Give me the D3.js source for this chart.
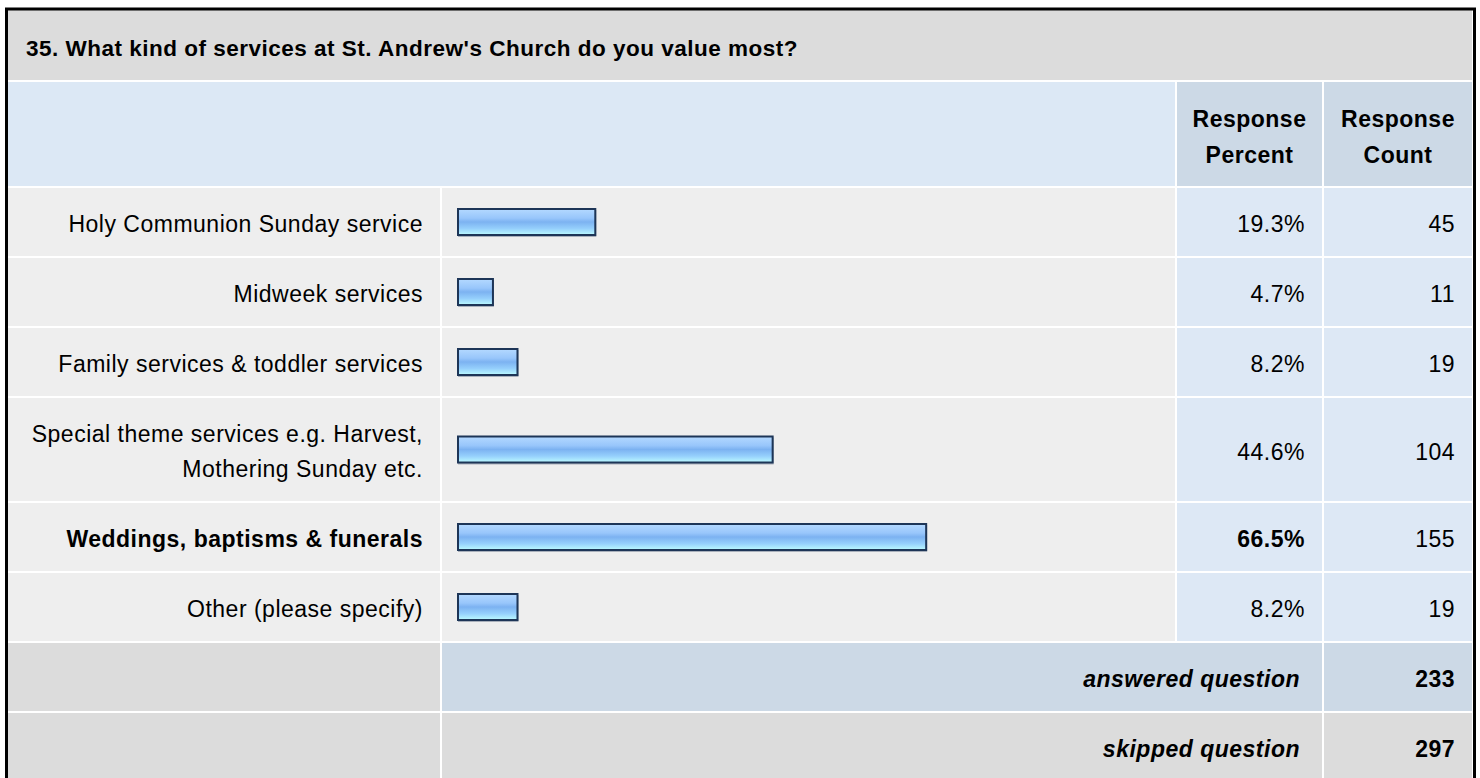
<!DOCTYPE html>
<html>
<head>
<meta charset="utf-8">
<script src="https://cdn.jsdelivr.net/npm/d3@7/dist/d3.min.js"></script>
<style>
  body { margin: 0; background: #fff; }
  svg text { font-family: Arial, "Liberation Sans", sans-serif; fill: #000; letter-spacing: 0.5px; }
</style>
</head>
<body>
<div id="chart"></div>
<script>
var title = "35. What kind of services at St. Andrew's Church do you value most?";
var categories = [
  ["Holy Communion Sunday service"],
  ["Midweek services"],
  ["Family services & toddler services"],
  ["Special theme services e.g. Harvest,", "Mothering Sunday etc."],
  ["Weddings, baptisms & funerals"],
  ["Other (please specify)"]
];
var percents = [19.3, 4.7, 8.2, 44.6, 66.5, 8.2];
var counts = [45, 11, 19, 104, 155, 19];
var headers = [["Response", "Percent"], ["Response", "Count"]];
var footerLabels = ["answered question", "skipped question"];
var footerCounts = [233, 297];

(function() {
  var w = 1480,
      h = 778;

  var svg = d3.select("#chart")
    .append("svg")
    .attr("width", w)
    .attr("height", h)

  // columns: label | bar | percent | count
  var colX = [8, 442, 1177, 1324],
      colR = [440, 1175, 1322, 1472];

  var topY = 188, rowH = 68, lineH = 35, gap = 2, fs = 23, base = 10;

  // row heights depend on how many lines the label has
  var rows = [];
  var y = topY;
  categories.forEach(function(c, i) {
    var hh = rowH + (c.length - 1) * lineH;
    rows.push({lines: c, pct: percents[i], count: counts[i], y: y, h: hh});
    y += hh + gap;
  });
  var footY = y;

  var maxPct = d3.max(percents);

  var x = d3.scaleLinear().domain([0, 100]).range([0, 701]);

  var defs = svg.append("defs");
  var grad = defs.append("linearGradient")
    .attr("id", "barGrad")
    .attr("x1", 0).attr("y1", 0).attr("x2", 0).attr("y2", 1);
  grad.append("stop").attr("offset", "0%").attr("stop-color", "#b4d9ff");
  grad.append("stop").attr("offset", "35%").attr("stop-color", "#98c6fb");
  grad.append("stop").attr("offset", "50%").attr("stop-color", "#7cb2f1");
  grad.append("stop").attr("offset", "75%").attr("stop-color", "#95cffc");
  grad.append("stop").attr("offset", "100%").attr("stop-color", "#bcfbff");

  // title + header
  svg.append("rect").attr("x", 8).attr("y", 10).attr("width", 1464).attr("height", 70).attr("fill", "#dcdcdc");
  svg.append("text").attr("x", 26).attr("y", 56)
    .attr("font-size", 22.5).attr("font-weight", "bold").text(title);

  svg.append("rect").attr("x", 8).attr("y", 82).attr("width", colR[1] - 8).attr("height", 104).attr("fill", "#dce8f5");
  headers.forEach(function(hd, i) {
    var c = i + 2;
    svg.append("rect").attr("x", colX[c]).attr("y", 82)
      .attr("width", colR[c] - colX[c]).attr("height", 104).attr("fill", "#ccd9e6");
    hd.forEach(function(t, j) {
      svg.append("text")
        .attr("x", (colX[c] + colR[c]) / 2)
        .attr("y", 127 + j * 36)
        .attr("text-anchor", "middle")
        .attr("font-size", fs).attr("font-weight", "bold")
        .text(t);
    });
  });

  // data rows
  var row = svg.selectAll(".row")
    .data(rows)
    .enter().append("g")
    .attr("class", "row")
    .attr("transform", function(d) { return "translate(0," + d.y + ")"; });

  [0, 1, 2, 3].forEach(function(c) {
    row.append("rect")
      .attr("x", colX[c])
      .attr("width", colR[c] - colX[c])
      .attr("height", function(d) { return d.h; })
      .attr("fill", c < 2 ? "#eeeeee" : "#dde8f5");
  });

  row.each(function(d) {
    var g = d3.select(this);
    var n = d.lines.length;
    d.lines.forEach(function(t, j) {
      g.append("text")
        .attr("x", 423)
        .attr("y", d.h / 2 + base + (j - (n - 1) / 2) * lineH)
        .attr("text-anchor", "end")
        .attr("font-size", fs)
        .attr("font-weight", d.pct === maxPct ? "bold" : "normal")
        .text(t);
    });
  });

  // bar shadow
  row.append("rect")
    .attr("x", 458)
    .attr("y", function(d) { return d.h / 2 - 12; })
    .attr("width", function(d) { return x(d.pct) + 3; })
    .attr("height", 27)
    .attr("fill", "#a9b0bb");

  row.append("rect")
    .attr("class", "bar")
    .attr("x", 458)
    .attr("y", function(d) { return d.h / 2 - 13; })
    .attr("width", function(d) { return x(d.pct) + 2; })
    .attr("height", 26)
    .attr("fill", "url(#barGrad)")
    .attr("stroke", "#1d3557")
    .attr("stroke-width", 2);

  row.append("text")
    .attr("x", 1305)
    .attr("y", function(d) { return d.h / 2 + base; })
    .attr("text-anchor", "end")
    .attr("font-size", fs)
    .attr("font-weight", function(d) { return d.pct === maxPct ? "bold" : "normal"; })
    .text(function(d) { return d.pct.toFixed(1) + "%"; });

  row.append("text")
    .attr("x", 1455)
    .attr("y", function(d) { return d.h / 2 + base; })
    .attr("text-anchor", "end")
    .attr("font-size", fs)
    .text(function(d) { return d.count; });

  // footer rows
  footerLabels.forEach(function(lbl, i) {
    var fy = footY + i * (rowH + gap);
    var fill = i === 0 ? "#ccd9e6" : "#dcdcdc";
    svg.append("rect").attr("x", colX[0]).attr("y", fy)
      .attr("width", colR[0] - colX[0]).attr("height", rowH).attr("fill", "#dcdcdc");
    svg.append("rect").attr("x", colX[1]).attr("y", fy)
      .attr("width", colR[2] - colX[1]).attr("height", rowH).attr("fill", fill);
    svg.append("rect").attr("x", colX[3]).attr("y", fy)
      .attr("width", colR[3] - colX[3]).attr("height", rowH).attr("fill", fill);
    svg.append("text").attr("x", 1300).attr("y", fy + rowH / 2 + base)
      .attr("text-anchor", "end").attr("font-size", fs)
      .attr("font-weight", "bold").attr("font-style", "italic")
      .text(lbl);
    svg.append("text").attr("x", 1455).attr("y", fy + rowH / 2 + base)
      .attr("text-anchor", "end").attr("font-size", fs)
      .attr("font-weight", "bold")
      .text(footerCounts[i]);
  });

  // outer frame
  svg.append("rect")
    .attr("x", 6.5).attr("y", 9)
    .attr("width", 1468).attr("height", 800)
    .attr("fill", "none")
    .attr("stroke", "#000")
    .attr("stroke-width", 3);
})();
</script>
</body>
</html>
